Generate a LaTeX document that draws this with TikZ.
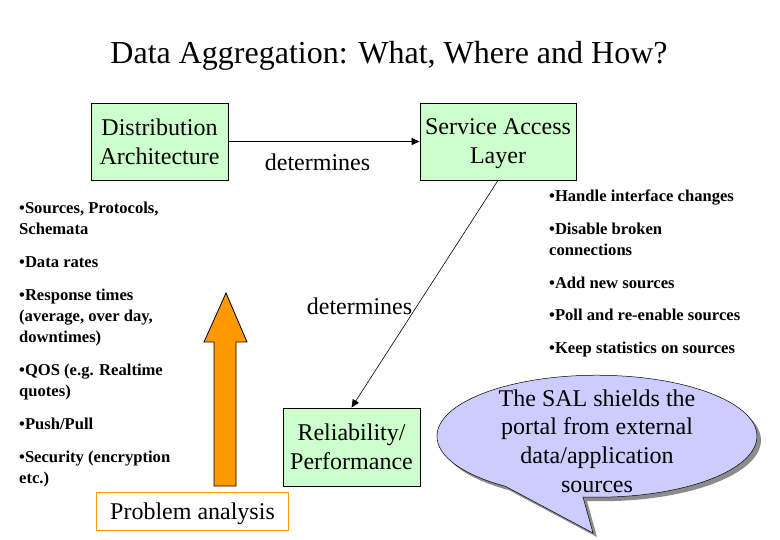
\documentclass[tikz,border=0pt]{standalone}
\usepackage{fontspec}
\setmainfont{Liberation Serif}
\usetikzlibrary{arrows.meta}
\definecolor{boxgreen}{HTML}{CCFFCC}
\definecolor{arroworange}{HTML}{FF9900}
\definecolor{bubblefill}{HTML}{CCCCFF}
\definecolor{shadowgray}{HTML}{8C8C8C}
\begin{document}
\begin{tikzpicture}[x=1pt,y=-1pt,
  box/.style={draw=black, fill=boxgreen, line width=0.8pt, align=center, inner sep=0pt,
    text depth=0pt, font=\fontsize{24}{29}\selectfont},
  lbl/.style={inner sep=0pt, font=\fontsize{24}{29}\selectfont},
  item/.style={anchor=north west, align=left, inner sep=0pt, font=\fontsize{16.6}{21}\selectfont\bfseries},
  conn/.style={-{Triangle[length=8pt,width=7pt]}, line width=0.6pt}]
\useasboundingbox (0,0) rectangle (780,540);
\fill[white] (0,0) rectangle (780,540);

% title
\node[inner sep=0pt, font=\fontsize{32}{38}\selectfont] (title) at (389,56) {Data Aggregation: What, Where and How?};

% boxes
\node[box, minimum width=137pt, minimum height=77pt] (da) at (159.5,141.5) {Distribution\\Architecture};
\node[box, minimum width=156pt, minimum height=77pt] (sal) at (498,141.5) {Service Access\\Layer};
\node[box, minimum width=137pt, minimum height=78pt] (rel) at (351.5,447) {Reliability/\\Performance};

% connectors
\draw[conn] (da) -- (sal);
\node[lbl] (l1) at (317.5,162) {determines};
\draw[conn] (sal.south) -- (rel.north);
\node[lbl] (l2) at (359.5,306) {determines};

% left list
\node[item] (a1) at (19,198.3) {\strut•Sources, Protocols,\\\strut Schemata};
\node[item] (a2) at (19,252.3) {\strut•Data rates};
\node[item] (a3) at (19,285.3) {\strut•Response times\\\strut(average, over day,\\\strut downtimes)};
\node[item] (a4) at (19,360.3) {\strut•QOS (e.g. Realtime\\\strut quotes)};
\node[item] (a5) at (19,414.3) {\strut•Push/Pull};
\node[item] (a6) at (19,447.3) {\strut•Security (encryption\\\strut etc.)};

% right list
\node[item] (b1) at (549,186.3) {\strut•Handle interface changes};
\node[item] (b2) at (549,219.3) {\strut•Disable broken\\\strut connections};
\node[item] (b3) at (549,273.3) {\strut•Add new sources};
\node[item] (b4) at (549,305.3) {\strut•Poll and re-enable sources};
\node[item] (b5) at (549,338.3) {\strut•Keep statistics on sources};

% orange block arrow
\draw[fill=arroworange, line width=0.8pt] (214,486) -- (214,342) -- (204,342) -- (226,293)
  -- (247,342) -- (236,342) -- (236,486) -- cycle;
\node[draw=arroworange, fill=white, line width=0.8pt, minimum width=192pt, minimum height=38pt,
  inner sep=0pt, text depth=0pt, font=\fontsize{24}{29}\selectfont] (pa) at (192.5,511) {Problem analysis};

% speech bubble with shadow
\fill[shadowgray] (587,501) arc[start angle=95, end angle=-235, x radius=160, y radius=61]
  -- (597,537) -- cycle;
\draw[fill=bubblefill, line width=0.5pt] (583,497) arc[start angle=95, end angle=-235, x radius=160, y radius=61]
  -- (593,533) -- cycle;
\node[inner sep=0pt, align=center, font=\fontsize{24}{28.7}\selectfont] (bt) at (597,441)
  {The SAL shields the\\portal from external\\data/application\\sources};
\end{tikzpicture}
\end{document}
